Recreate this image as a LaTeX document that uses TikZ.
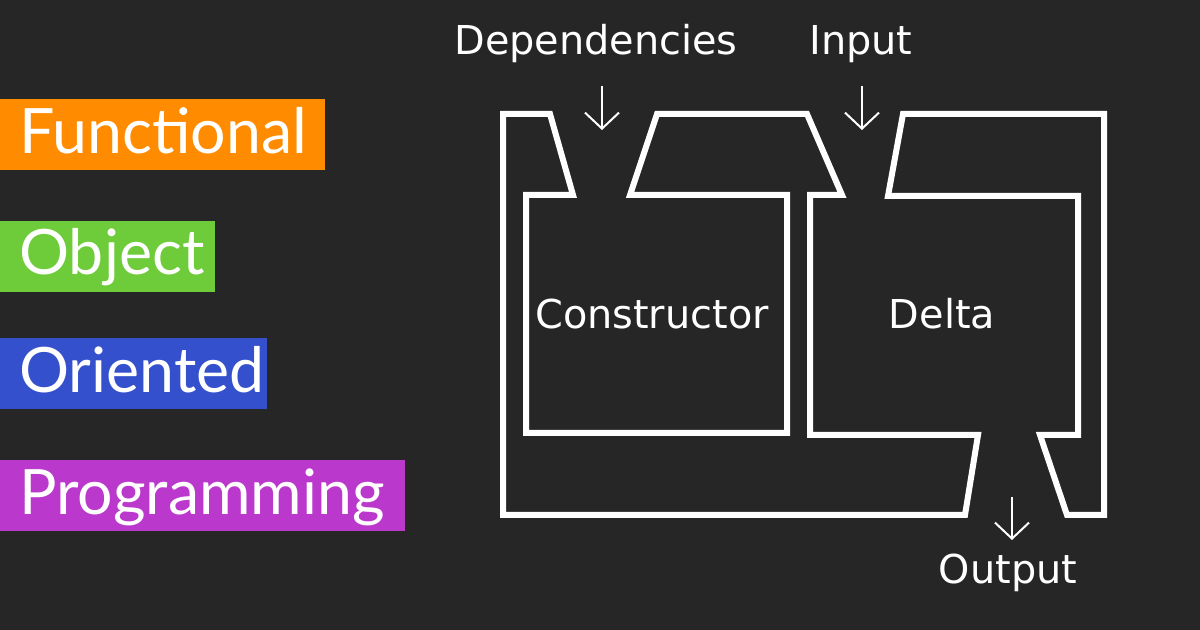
\documentclass[tikz,border=0pt]{standalone}
\usepackage{fontspec}
\setmainfont{DejaVu Sans}
\newfontfamily\tagfont{Lato}
\usetikzlibrary{arrows.meta}

\definecolor{board}{RGB}{38,38,38}
\definecolor{orangetag}{RGB}{255,140,0}
\definecolor{greentag}{RGB}{110,203,58}
\definecolor{bluetag}{RGB}{53,80,204}
\definecolor{purpletag}{RGB}{187,56,204}

\begin{document}
\begin{tikzpicture}[
    x={(0.5pt,0)},
    y={(0,-0.5pt)},
    chalk/.style={draw=white, line width=3pt},
    pointer/.style={draw=white, line width=1pt, -{Straight Barb[length=8pt, width=17pt]}},
    tag/.style={font=\tagfont\fontsize{31.3}{31}\selectfont, text=white, anchor=base west, inner sep=0pt},
    caption/.style={font=\fontsize{19.9}{20}\selectfont, text=white, anchor=base, inner sep=0pt}
]
  % Board
  \fill[board] (0,0) rectangle (1200,630);
  \useasboundingbox (0,0) rectangle (1200,630);

  % Coloured tags on the left
  \foreach \ytop/\ybase/\xend/\col/\name/\word in {99/154/325/orangetag/functional/Functional,
      221/275/215/greentag/object/Object,
      338/393/267/bluetag/oriented/Oriented,
      460/515/405/purpletag/programming/Programming} {
    \fill[\col] (0,\ytop) rectangle (\xend,\ytop+71);
    \node[tag] (\name) at (19,\ybase) {\word};
  }

  % Constructor outline, wrapped round the Delta channel
  \draw[chalk] (503,114) -- (550,114) -- (573,195) -- (526,195) -- (526,433)
    -- (787,433) -- (787,195) -- (630,195) -- (657,114) -- (807,114) -- (842,195)
    -- (810,195) -- (810,435) -- (978,435) -- (965,515) -- (503,515) -- cycle;
  % Delta outline
  \draw[chalk] (903,114) -- (1104,114) -- (1104,515) -- (1067,515) -- (1040,435)
    -- (1078,435) -- (1078,196) -- (888,196) -- cycle;

  % Captions
  \node[caption] (dependencies) at (596,55) {Dependencies};
  \node[caption] (input) at (861,55) {Input};
  \node[caption] (constructor) at (652,329) {Constructor};
  \node[caption] (delta) at (942,329) {Delta};
  \node[caption] (output) at (1008,583) {Output};

  % Pointers
  \coordinate (dep-from) at (602,86);
  \coordinate (dep-to) at (602,130);
  \coordinate (in-from) at (862,86);
  \coordinate (in-to) at (862,130);
  \coordinate (out-from) at (1012,497);
  \coordinate (out-to) at (1012,540);
  \draw[pointer] (dep-from) -- (dep-to);
  \draw[pointer] (in-from) -- (in-to);
  \draw[pointer] (out-from) -- (out-to);
\end{tikzpicture}
\end{document}
